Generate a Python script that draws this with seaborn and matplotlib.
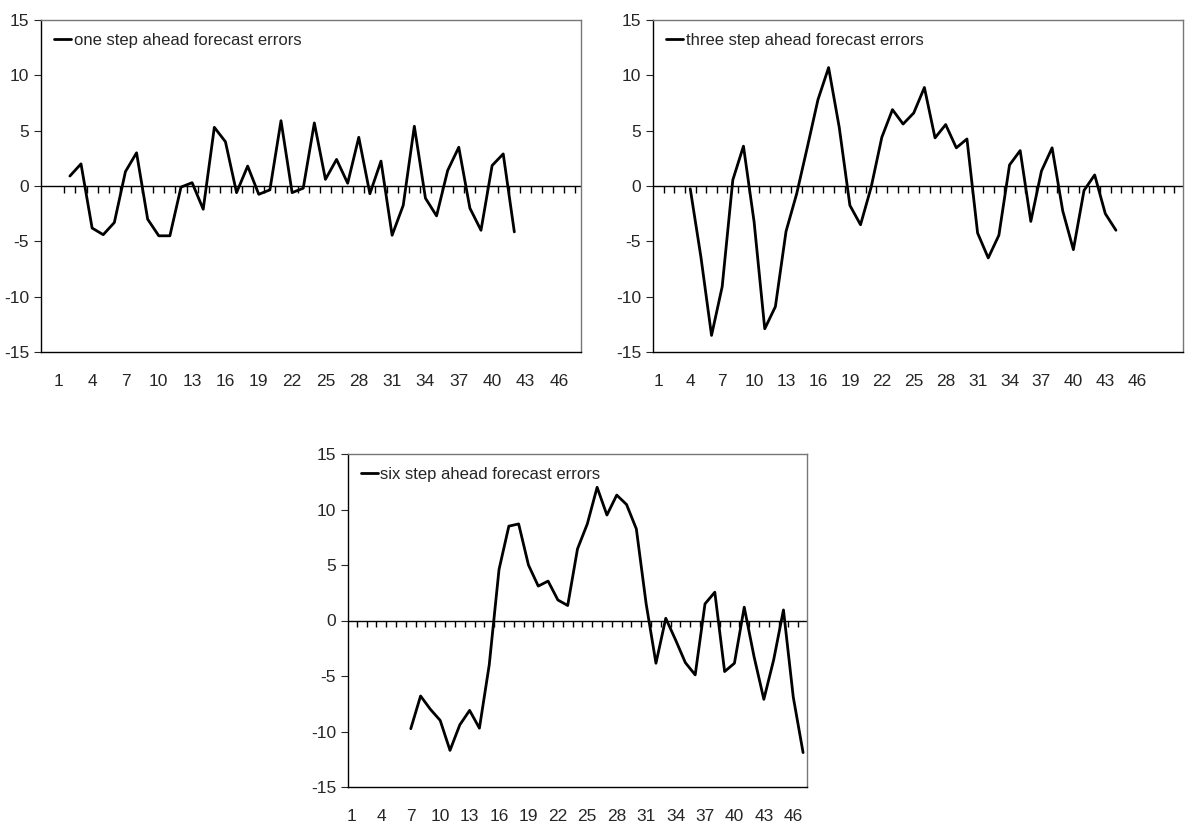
import matplotlib
matplotlib.use("Agg")
import matplotlib.pyplot as plt
import numpy as np
import pandas as pd
import seaborn as sns

# forecast errors (period index -> error)
one_start = 2
one_step = [0.9, 2.0, -3.8, -4.4, -3.3, 1.3, 3.0, -3.0, -4.5, -4.5, -0.1, 0.3, -2.1,
            5.3, 4.0, -0.6, 1.8, -0.75, -0.35, 5.9, -0.6, -0.2, 5.7, 0.6, 2.4, 0.25,
            4.4, -0.7, 2.25, -4.45, -1.75, 5.4, -1.1, -2.7, 1.4, 3.5, -2.0, -4.0,
            1.85, 2.9, -4.15]
three_start = 4
three_step = [-0.25, -6.4, -13.5, -9.1, 0.55, 3.6, -3.25, -12.9, -10.9, -4.1, -0.7,
              3.5, 7.8, 10.7, 5.3, -1.75, -3.5, -0.1, 4.4, 6.9, 5.6, 6.6, 8.9, 4.35,
              5.55, 3.45, 4.25, -4.25, -6.5, -4.45, 1.9, 3.2, -3.2, 1.35, 3.45,
              -2.25, -5.75, -0.4, 1.0, -2.5, -4.0]
six_start = 7
six_step = [-9.75, -6.8, -8.0, -9.0, -11.7, -9.4, -8.1, -9.7, -4.0, 4.6, 8.5, 8.7,
            5.0, 3.1, 3.55, 1.85, 1.35, 6.45, 8.7, 12.0, 9.5, 11.3, 10.45, 8.25, 1.5,
            -3.85, 0.2, -1.75, -3.8, -4.9, 1.5, 2.55, -4.6, -3.85, 1.2, -3.25, -7.1,
            -3.55, 0.95, -6.9, -11.9]
n_periods = 47
tick_labels = list(range(1, n_periods + 1, 3))

sns.set_style("white")
plt.rcParams["font.family"] = ["Liberation Sans", "DejaVu Sans"]
plt.rcParams["axes.unicode_minus"] = False

fig = plt.figure(figsize=(11.87, 8.30), dpi=100)
W, H = 1187, 830


def panel(rect, start, vals, label, xlim):
    l, t, r, b = rect
    ax = fig.add_axes([l / W, 1 - b / H, (r - l) / W, (b - t) / H])
    df = pd.DataFrame({"period": np.arange(start, start + len(vals)), "err": vals})
    sns.lineplot(data=df, x="period", y="err", color="black", linewidth=2,
                 ax=ax, label=label)
    ax.axhline(0, color="black", linewidth=1)
    ax.vlines(np.arange(1.5, xlim[1], 1), -0.6, 0, color="black", linewidth=1)
    ax.set_xlim(*xlim)
    ax.set_ylim(-15, 15)
    ax.set_yticks(range(-15, 16, 5))
    ax.set_xticks(tick_labels)
    ax.tick_params(axis="x", length=0, pad=16, labelsize=12.5)
    ax.tick_params(axis="y", length=5, labelsize=12.5, left=True, direction="out")
    ax.set_xlabel("")
    ax.set_ylabel("")
    for s in ax.spines.values():
        s.set_color("#777777")
        s.set_linewidth(1)
    ax.spines["left"].set_color("black")
    ax.spines["bottom"].set_color("black")
    ax.legend(loc="upper left", frameon=False, fontsize=12, handlelength=1.0,
              handletextpad=0.15, borderaxespad=0.5, borderpad=0.3)
    return ax


panel((41, 20, 581, 352), one_start, one_step, "one step ahead forecast errors", (-0.6, 48.0))
panel((653, 20, 1183, 352), three_start, three_step, "three step ahead forecast errors", (0.5, 50.3))
panel((348, 454, 807, 787), six_start, six_step, "six step ahead forecast errors", (0.6, 47.4))

fig.savefig("out.png", dpi=100)
